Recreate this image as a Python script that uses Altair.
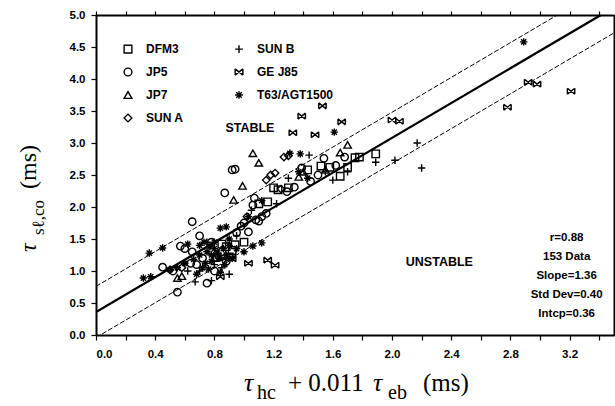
import altair as alt
import pandas as pd

# ---------------- data ----------------
dfm3_x = [1.89, 1.52, 1.43, 1.65, 1.75, 1.78, 1.23, 1.16, 0.94, 0.82, 0.90, 1.30, 1.70, 0.88, 1.10, 1.58, 1.20,
          0.85, 0.92, 1.00]
dfm3_y = [2.83, 2.64, 2.58, 2.48, 2.77, 2.78, 2.27, 2.08, 1.41, 1.22, 1.22, 2.30, 2.62, 1.38, 2.05, 2.62, 2.30,
          1.42, 1.32, 1.45]

jp5_x = [0.92, 0.94, 0.87, 1.07, 1.06, 1.03, 0.65, 0.57, 0.55, 0.75, 0.45, 1.54, 1.68, 1.62, 1.39, 1.34,
         1.29, 1.08, 1.10, 0.60, 0.78, 0.68, 0.98, 1.12, 0.52, 0.70, 1.45, 1.50, 0.64, 0.95, 1.00, 1.15,
         0.72, 0.80, 0.85, 0.65, 0.88]
jp5_y = [2.58, 2.59, 2.22, 2.14, 2.03, 1.61, 1.77, 1.39, 0.67, 0.81, 1.06, 2.76, 2.78, 2.65, 2.61, 2.31,
         2.24, 1.80, 1.78, 1.35, 1.45, 1.10, 1.70, 1.85, 1.00, 1.55, 2.40, 2.50, 1.12, 1.60, 1.75, 1.90,
         1.20, 1.00, 1.30, 1.30, 1.15]

jp7_x = [1.06, 1.10, 0.99, 0.93, 0.55, 1.70, 1.37, 1.40, 0.58, 1.55, 1.65, 0.80]
jp7_y = [2.84, 2.69, 2.33, 2.11, 0.89, 2.97, 2.47, 2.55, 0.92, 2.58, 2.85, 1.20]

suna_x = [1.15, 1.21, 1.27, 1.25, 1.30, 1.02, 0.58, 0.50, 1.18]
suna_y = [2.42, 2.53, 2.78, 2.28, 2.80, 1.85, 1.05, 1.02, 2.50]

sunb_x = [2.17, 2.20, 2.02, 1.89, 1.44, 1.60, 0.67, 1.55, 1.70, 1.30, 0.80, 0.62, 1.22, 0.75, 0.95, 1.05,
          0.70, 0.85, 0.90, 0.78]
sunb_y = [3.00, 2.61, 2.73, 2.70, 2.81, 2.42, 0.83, 2.55, 2.55, 2.45, 1.10, 1.00, 2.05, 1.45, 1.55, 1.95,
          1.00, 1.05, 0.95, 0.85]

gej85_x = [1.33, 1.39, 1.48, 1.53, 1.66, 2.00, 2.05, 2.78, 2.92, 2.98, 3.21, 0.92, 1.03, 1.16, 1.21, 0.84, 0.86]
gej85_y = [3.16, 3.42, 3.13, 3.58, 3.33, 3.36, 3.34, 3.56, 3.95, 3.92, 3.81, 1.19, 1.12, 1.17, 1.09, 0.91, 1.20]

t63_x = [0.32, 0.37, 0.36, 0.45, 0.55, 0.60, 0.62, 0.66, 0.70, 0.72, 0.75, 0.77, 0.78, 0.80, 0.82, 0.84,
         0.88, 0.86, 0.90, 0.92, 0.95, 1.00, 1.06, 1.12, 1.03, 1.12, 1.31, 1.38, 1.61, 2.89, 1.43, 1.37,
         0.50, 0.68, 0.84, 0.74, 0.78, 0.80, 0.83, 0.87, 0.88, 0.90, 0.70, 0.73, 0.76]
t63_y = [0.89, 0.91, 1.28, 1.36, 1.05, 1.12, 1.42, 1.18, 1.25, 1.05, 1.30, 1.38, 1.15, 1.45, 1.28, 1.67,
         1.69, 1.35, 1.50, 1.20, 1.35, 1.30, 1.39, 1.44, 1.85, 2.10, 2.84, 2.83, 3.17, 4.58, 2.45, 2.55,
         1.02, 0.95, 0.98, 1.12, 1.25, 1.35, 1.20, 1.10, 1.25, 1.40, 1.40, 1.45, 1.03]

series_names = ["DFM3", "JP5", "JP7", "SUN A", "SUN B", "GE J85", "T63/AGT1500"]
series_xs = [dfm3_x, jp5_x, jp7_x, suna_x, sunb_x, gej85_x, t63_x]
series_ys = [dfm3_y, jp5_y, jp7_y, suna_y, sunb_y, gej85_y, t63_y]

# regression statistics
slope = 1.36
std_dev = 0.40
intercept = 0.36

stat_lines = ["r=0.88", "153 Data", "Slope=1.36", "Std Dev=0.40", "Intcp=0.36"]
stat_y = [1.52, 1.22, 0.92, 0.62, 0.33]

x_ticks = [round(0.2 * i, 1) for i in range(18)]
y_ticks = [0.0, 0.5, 1.0, 1.5, 2.0, 2.5, 3.0, 3.5, 4.0, 4.5, 5.0]

# ---------------- tables ----------------
rows = []
for name, xs, ys in zip(series_names, series_xs, series_ys):
    for a, b in zip(xs, ys):
        rows.append({"x": a, "y": b, "fuel": name})
pts = pd.DataFrame(rows)

line_x = [0.0, 3.5]
lines = pd.DataFrame(
    [{"x": lx, "y": intercept + slope * lx, "kind": "fit"} for lx in line_x]
    + [{"x": lx, "y": intercept + std_dev + slope * lx, "kind": "upper"} for lx in line_x]
    + [{"x": lx, "y": intercept - std_dev + slope * lx, "kind": "lower"} for lx in line_x]
)

stats = pd.DataFrame({"x": [3.18] * len(stat_lines), "y": stat_y, "t": stat_lines})
regions = pd.DataFrame({"x": [1.04, 2.32], "y": [3.23, 1.14], "t": ["STABLE", "UNSTABLE"]})

# ---------------- scales ----------------
xs_scale = alt.Scale(domain=[0, 3.5], nice=False, zero=False)
ys_scale = alt.Scale(domain=[0, 5], nice=False, zero=False)

legend_order = ["DFM3", "JP5", "JP7", "SUN A", "SUN B", "GE J85", "T63/AGT1500"]
shape_range = [
    "square",
    "circle",
    "triangle-up",
    "diamond",
    "M-1,0L1,0M0,-1L0,1",
    "M-1,-0.8L1,0.8M-1,0.8L1,-0.8M-1,-0.8L-1,0.8M1,-0.8L1,0.8",
    "M-1,0L1,0M0,-1L0,1M-0.7,-0.7L0.7,0.7M-0.7,0.7L0.7,-0.7",
]
sw_range = [1.4, 1.4, 1.4, 1.4, 1.6, 2.0, 2.6]

FONT = "Liberation Sans"
SERIF = "Liberation Serif"

x_axis_bottom = alt.Axis(
    values=x_ticks, title=None, grid=False,
    labelExpr="round(datum.value*10) % 4 == 0 ? format(datum.value, '.1f') : ''",
    labelFont=FONT, labelFontWeight="bold", labelFontSize=11.5, labelColor="black",
    labelPadding=8, tickSize=5, tickColor="black", tickWidth=1.2,
    domainColor="black", domainWidth=2,
)
y_axis_left = alt.Axis(
    values=y_ticks, title=None, grid=False, format=".1f",
    labelFont=FONT, labelFontWeight="bold", labelFontSize=11.5, labelColor="black",
    labelPadding=6, tickSize=5, tickColor="black", tickWidth=1.2,
    domainColor="black", domainWidth=2,
)
x_axis_top = alt.Axis(
    orient="top", values=x_ticks, title=None, grid=False, labels=False,
    tickSize=4, tickColor="black", tickWidth=1.2, domainColor="black", domainWidth=2,
)
y_axis_right = alt.Axis(
    orient="right", values=y_ticks, title=None, grid=False, labels=False,
    tickSize=4, tickColor="black", tickWidth=1.2, domainColor="black", domainWidth=2,
)

points = alt.Chart(pts).mark_point(filled=False, color="black", opacity=1).encode(
    x=alt.X("x:Q", scale=xs_scale, axis=x_axis_bottom),
    y=alt.Y("y:Q", scale=ys_scale, axis=y_axis_left),
    shape=alt.Shape(
        "fuel:N",
        scale=alt.Scale(domain=legend_order, range=shape_range),
        sort=legend_order,
        legend=alt.Legend(
            title=None, orient="none", legendX=26, legendY=28, columns=2,
            columnPadding=48, rowPadding=9, padding=0,
            labelFont=FONT, labelFontWeight="bold", labelFontSize=12, labelColor="black",
            labelOffset=12, symbolSize=60, symbolStrokeColor="black",
            symbolStrokeWidth=1.5, symbolFillColor="transparent",
        ),
    ),
    strokeWidth=alt.StrokeWidth(
        "fuel:N", scale=alt.Scale(domain=legend_order, range=sw_range), legend=None
    ),
    size=alt.value(55),
)

fit = alt.Chart(lines).transform_filter(alt.datum.kind == "fit").mark_line(
    color="black", strokeWidth=2.3, clip=True
).encode(
    x=alt.X("x:Q", scale=xs_scale, axis=x_axis_top),
    y=alt.Y("y:Q", scale=ys_scale, axis=y_axis_right),
)

env = alt.Chart(lines).transform_filter(alt.datum.kind != "fit").mark_line(
    color="black", strokeWidth=1, strokeDash=[5, 2], clip=True
).encode(
    x=alt.X("x:Q", scale=xs_scale, axis=None),
    y=alt.Y("y:Q", scale=ys_scale, axis=None),
    detail="kind:N",
)

stat_text = alt.Chart(stats).mark_text(
    font=FONT, fontWeight="bold", fontSize=11.5, color="black", align="center", baseline="middle"
).encode(
    x=alt.X("x:Q", scale=xs_scale, axis=None),
    y=alt.Y("y:Q", scale=ys_scale, axis=None),
    text="t:N",
)

region_text = alt.Chart(regions).mark_text(
    font=FONT, fontWeight="bold", fontSize=12.5, color="black", align="center", baseline="middle"
).encode(
    x=alt.X("x:Q", scale=xs_scale, axis=None),
    y=alt.Y("y:Q", scale=ys_scale, axis=None),
    text="t:N",
)

# axis titles built from pieces (main text + subscripts)
xt = pd.DataFrame({
    "t": ["τ", "hc", "+ 0.011", "τ", "eb", "(ms)"],
    "px": [148, 161, 192, 277, 292, 327],
    "py": [376, 384, 376, 376, 384, 376],
    "fs": [26, 20, 25, 26, 20, 25],
    "st": ["italic", "normal", "normal", "italic", "normal", "normal"],
})
yt = pd.DataFrame({
    "t": ["τ", "sℓ,co", "(ms)"],
    "px": [-60, -52, -60],
    "py": [237, 220, 174],
    "fs": [24, 17, 24],
    "st": ["italic", "normal", "normal"],
})

def title_layer(df, angle):
    layers = []
    for i in range(len(df)):
        row = df.iloc[i]
        layers.append(
            alt.Chart(pd.DataFrame({"t": [row["t"]]})).mark_text(
                font=SERIF, fontSize=float(row["fs"]), fontStyle=row["st"], color="black",
                align="left", baseline="alphabetic", angle=angle,
            ).encode(x=alt.value(float(row["px"])), y=alt.value(float(row["py"])), text="t:N")
        )
    return layers

title_layers = title_layer(xt, 0) + title_layer(yt, 270)

chart = alt.layer(points, fit, env, stat_text, region_text, *title_layers).resolve_axis(
    x="independent", y="independent"
).properties(
    width=518, height=320,
    autosize=alt.AutoSizeParams(type="none"),
    padding={"left": 96, "top": 15, "right": 1, "bottom": 71},
).configure_view(stroke="black", strokeWidth=2).configure(background="white")

chart.save("out.html", embed_options={"renderer": "svg", "actions": False})
